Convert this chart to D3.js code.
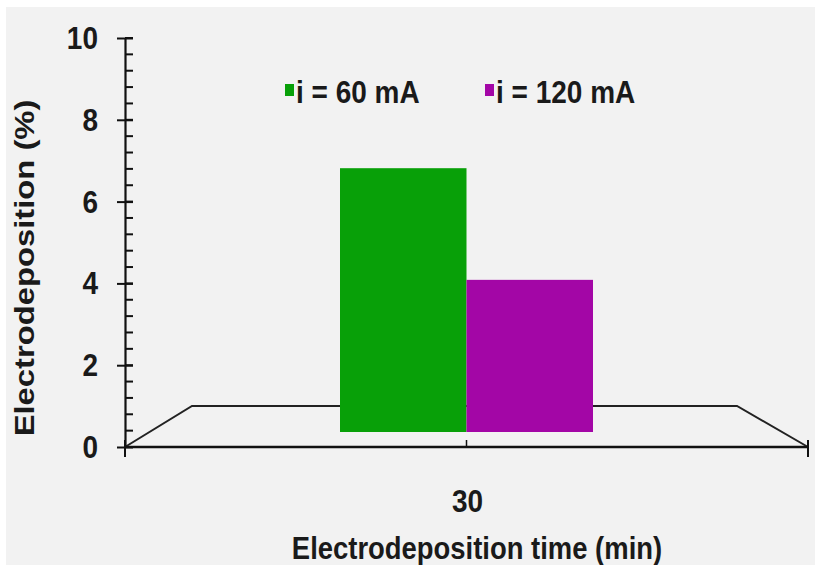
<!DOCTYPE html>
<html>
<head>
  <meta charset="utf-8">
  <script src="https://d3js.org/d3.v7.min.js"></script>
  <style>
    body { margin: 0; background: #fff; }
    text { font-family: "Liberation Sans", Arial, sans-serif; font-weight: bold; fill: #1a1a1a; }
  </style>
</head>
<body>
<svg width="815" height="565"></svg>
<script>
// data
var categories = ["30"];
var seriesNames = ["i = 60 mA", "i = 120 mA"];
var seriesValues = [[6.45], [3.72]];
var seriesColors = ["#08a008", "#a306a6"];
var yTicks = [0, 2, 4, 6, 8, 10];

var svg = d3.select("svg");

// plot area background (white strip on top / left like the scan)
svg.append("rect")
  .attr("x", 6).attr("y", 7)
  .attr("width", 809).attr("height", 558)
  .attr("fill", "#f2f2f2");

var plotLeft = 125, plotRight = 808, plotTop = 38, plotBottom = 447;
var depthY = -41, depthXL = 67, depthXR = -71, barDepth = -15;

var y = d3.scaleLinear().domain([0, 10]).range([plotBottom, plotTop]);
// bars stand a little back in the 3d floor
var yBar = d3.scaleLinear().domain([0, 10]).range([plotBottom + barDepth, plotTop + barDepth]);

var x = d3.scaleBand().domain(categories).range([plotLeft, plotRight])
  .paddingInner(0.4594).paddingOuter(0.4594);
var xs = d3.scaleBand().domain(seriesNames).range([0, x.bandwidth()]);

// 3d floor
var floor = d3.line();
svg.append("path")
  .attr("d", floor([[plotLeft, y(0)], [plotLeft + depthXL, y(0) + depthY],
                    [plotRight + depthXR, y(0) + depthY], [plotRight, y(0)]]))
  .attr("fill", "none")
  .attr("stroke", "#222")
  .attr("stroke-width", 2);

// bars
seriesNames.forEach(function(name, si) {
  svg.append("g").selectAll("rect")
    .data(categories)
    .enter().append("rect")
      .attr("x", function(d) { return x(d) + xs(name); })
      .attr("y", function(d, i) { return yBar(seriesValues[si][i]); })
      .attr("width", xs.bandwidth())
      .attr("height", function(d, i) { return yBar(0) - yBar(seriesValues[si][i]); })
      .attr("fill", seriesColors[si]);
});

// y axis with minor ticks
var minor = d3.range(0, 10.001, 0.4);
svg.append("g").selectAll("line")
  .data(minor)
  .enter().append("line")
    .attr("x1", plotLeft).attr("x2", plotLeft + 8)
    .attr("y1", function(d) { return y(d); })
    .attr("y2", function(d) { return y(d); })
    .attr("stroke", "#111").attr("stroke-width", 2);

var yAxis = svg.append("g")
  .attr("transform", "translate(" + plotLeft + ",0)")
  .call(d3.axisLeft(y).tickValues(yTicks).tickSize(8).tickSizeOuter(0).tickFormat(""));
yAxis.select(".domain").attr("stroke", "#111").attr("stroke-width", 2.2);
yAxis.selectAll(".tick line").attr("x2", -8).attr("x1", 8).attr("stroke", "#111").attr("stroke-width", 2);

function label(gx, gy, txt, anchor, sx, sy, rot) {
  return svg.append("text")
    .attr("transform", "translate(" + gx + "," + gy + ")" + (rot ? " rotate(" + rot + ")" : "") + " scale(" + sx + "," + sy + ")")
    .attr("text-anchor", anchor)
    .style("font-size", "28px")
    .text(txt);
}

yTicks.forEach(function(t) {
  label(98, y(t) + 11, String(t), "end", 1, 1.12);
});

// x axis
svg.append("line")
  .attr("x1", plotLeft).attr("x2", plotRight)
  .attr("y1", y(0)).attr("y2", y(0))
  .attr("stroke", "#111").attr("stroke-width", 2.5);
[plotLeft, plotRight].forEach(function(px) {
  svg.append("line")
    .attr("x1", px).attr("x2", px)
    .attr("y1", y(0) - 7).attr("y2", y(0) + 10)
    .attr("stroke", "#111").attr("stroke-width", 2);
});
categories.forEach(function(c) {
  var cx = x(c) + x.bandwidth() / 2;
  svg.append("line")
    .attr("x1", cx).attr("x2", cx)
    .attr("y1", y(0)).attr("y2", y(0) - 7)
    .attr("stroke", "#111").attr("stroke-width", 1.5);
  label(cx + 1, 512, c, "middle", 1, 1.12);
});

// axis titles
label(477, 559, "Electrodeposition time (min)", "middle", 0.98, 1.12);
label(34, 268, "Electrodeposition (%)", "middle", 1.17, 1, -90);

// legend
var legendX = [285, 485];
seriesNames.forEach(function(name, i) {
  svg.append("rect")
    .attr("x", legendX[i]).attr("y", 84)
    .attr("width", 9).attr("height", 12)
    .attr("fill", seriesColors[i]);
  label(legendX[i] + 11, 103, name, "start", 1, 1.12);
});
</script>
</body>
</html>
